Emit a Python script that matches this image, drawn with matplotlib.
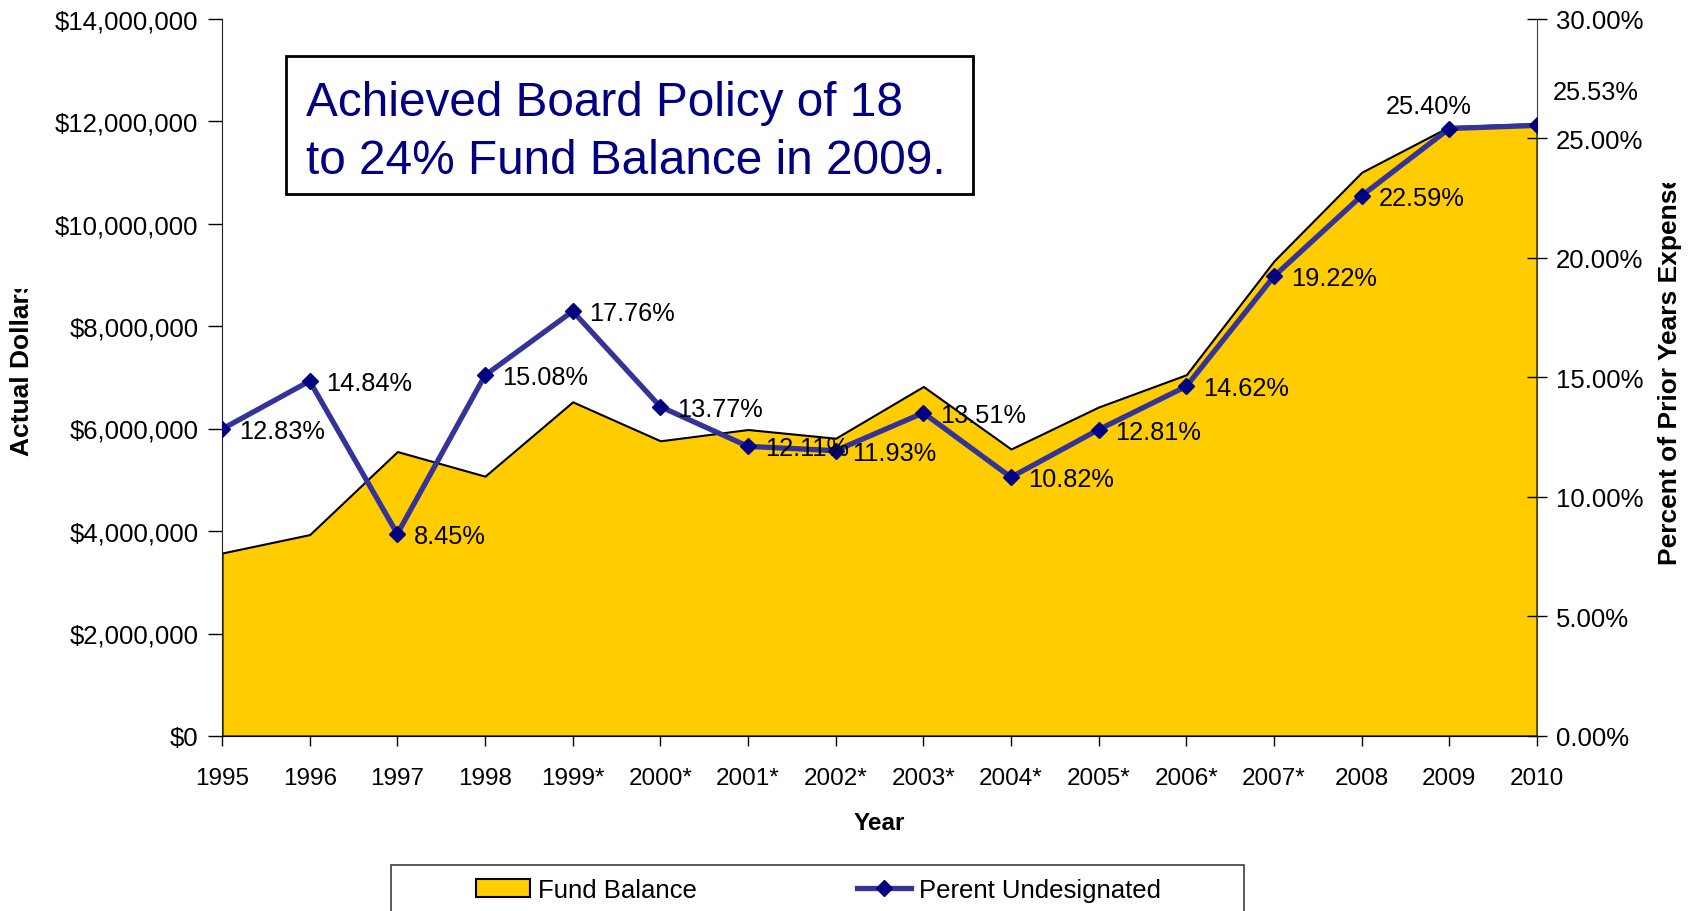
import matplotlib
matplotlib.use("Agg")
import matplotlib.pyplot as plt
from matplotlib.patches import Rectangle
from matplotlib.lines import Line2D
from matplotlib.patches import Patch
from matplotlib.transforms import Bbox, TransformedBbox
from matplotlib.ticker import FuncFormatter, MultipleLocator

plt.rcParams['font.family'] = ['Liberation Sans', 'DejaVu Sans']

# Data
years = ["1995", "1996", "1997", "1998", "1999*", "2000*", "2001*", "2002*",
         "2003*", "2004*", "2005*", "2006*", "2007*", "2008", "2009", "2010"]
fund_balance = [3570000, 3930000, 5550000, 5070000, 6520000, 5760000, 5980000,
                5810000, 6820000, 5600000, 6420000, 7050000, 9270000, 11000000,
                11890000, 11950000]
pct_undesignated = [12.83, 14.84, 8.45, 15.08, 17.76, 13.77, 12.11, 11.93,
                    13.51, 10.82, 12.81, 14.62, 19.22, 22.59, 25.40, 25.53]

W, H = 1696, 912
fig = plt.figure(figsize=(W / 100, H / 100), dpi=100)

def fx(px):
    return px / W

def fy(py):
    return 1 - py / H

ax_l, ax_r, ax_t, ax_b = 222, 1537, 19.5, 737
ax = fig.add_axes([fx(ax_l), fy(ax_b), fx(ax_r - ax_l), (ax_b - ax_t) / H])
ax2 = ax.twinx()

x = list(range(len(years)))

# Fund balance area
ax.fill_between(x, fund_balance, 0, facecolor='#FFCC00', edgecolor='black',
                linewidth=1.5, zorder=2)
ax.set_xlim(0, len(years) - 1)
ax.set_ylim(0, 14000000)
ax.yaxis.set_major_locator(MultipleLocator(2000000))
ax.yaxis.set_major_formatter(FuncFormatter(lambda v, p: f"${v:,.0f}"))
ax.set_xticks(x)
ax.set_xticklabels(years)
ax.tick_params(axis='y', direction='out', length=10, width=1, pad=7,
               labelsize=18.5, colors='black')
ax.tick_params(axis='x', direction='out', length=7, width=1, pad=15,
               labelsize=17.5)

# Percent line
ax2.plot(x, pct_undesignated, color='#333399', linewidth=3.8, zorder=3,
         marker='D', markersize=8.5, markerfacecolor='#000080',
         markeredgecolor='#000080')
ax2.set_ylim(0, 30)
ax2.yaxis.set_major_locator(MultipleLocator(5))
ax2.yaxis.set_major_formatter(FuncFormatter(lambda v, p: f"{v:.2f}%"))
ax2.tick_params(axis='y', direction='inout', length=14, width=1, pad=6.5,
                labelsize=18.5)

for a in (ax, ax2):
    a.spines['top'].set_visible(False)
    a.patch.set_visible(False)
ax.spines['left'].set_color('#202020')
ax.spines['bottom'].set_color('black')
ax2.spines['right'].set_color('#404040')
ax2.spines['left'].set_visible(False)
ax2.spines['bottom'].set_visible(False)
ax.spines['right'].set_visible(False)

# Value labels
offsets = {14: (-15, 16, 'center'), 15: (42, 24, 'center')}
for i, v in enumerate(pct_undesignated):
    dx, dy, ha = offsets.get(i, (12, -1.5, 'left'))
    ax2.annotate(f"{v:.2f}%", (i, v), xytext=(dx, dy),
                 textcoords='offset points', ha=ha, va='center',
                 fontsize=18.3, color='black', zorder=5, annotation_clip=False)

# Axis titles
ax.set_xlabel("Year", fontsize=17.5, fontweight='bold', labelpad=16)

lt = fig.text(fx(22.5), fy(456), "Actual Dollars", rotation=90,
              ha='center', va='bottom', fontsize=19, fontweight='bold')
lt.set_clip_box(TransformedBbox(Bbox([[0, fy(456) - 0.05], [fx(60), fy(290)]]),
                                fig.transFigure))
lt.set_clip_on(True)

rt = fig.text(fx(1670), fy(565), "Percent of Prior Years Expenses", rotation=90,
              ha='center', va='bottom', fontsize=19, fontweight='bold')
rt.set_clip_box(TransformedBbox(Bbox([[fx(1630), fy(565) - 0.05], [1, fy(184)]]),
                                fig.transFigure))
rt.set_clip_on(True)

# Annotation box
fig.patches.append(Rectangle((fx(285.5), fy(194.7)), fx(973.4 - 285.5),
                             (194.7 - 57.3) / H, transform=fig.transFigure,
                             facecolor='white', edgecolor='black',
                             linewidth=2, zorder=10))
fig.text(fx(306), fy(115.7), "Achieved Board Policy of 18", fontsize=34.4,
         color='#000080', ha='left', va='baseline', zorder=11)
fig.text(fx(306), fy(174), "to 24% Fund Balance in 2009.", fontsize=34.4,
         color='#000080', ha='left', va='baseline', zorder=11)

# Legend
fig.patches.append(Rectangle((fx(391), fy(935)), fx(1244 - 391), (935 - 866) / H,
                             transform=fig.transFigure, facecolor='white',
                             edgecolor='#404040', linewidth=1.2, zorder=1))
handles = [Patch(facecolor='#FFCC00', edgecolor='black', linewidth=1.5),
           Line2D([], [], color='#333399', linewidth=3.8, marker='D',
                  markersize=8.5, markerfacecolor='#000080',
                  markeredgecolor='#000080')]
fig.legend(handles, ["Fund Balance", "Perent Undesignated"], ncol=2,
           loc='center left', bbox_to_anchor=(fx(476), fy(891)),
           frameon=False, fontsize=18.5, borderpad=0, borderaxespad=0,
           handlelength=2.1, handletextpad=0.3, columnspacing=6.25,
           handleheight=0.65)

fig.savefig("out.png", dpi=100)
